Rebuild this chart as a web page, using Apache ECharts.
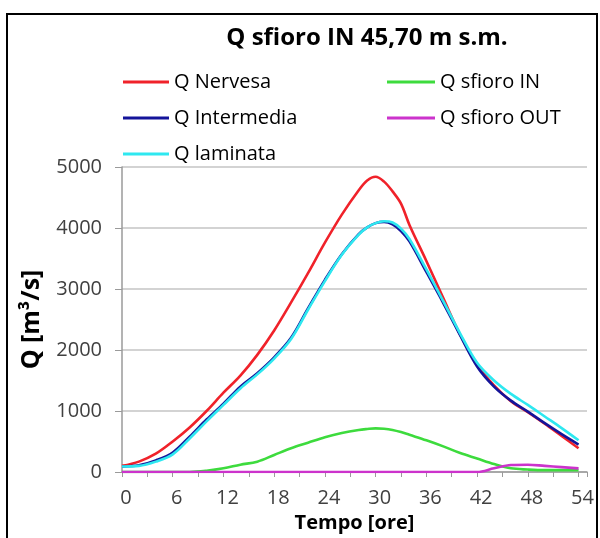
<!DOCTYPE html>
<html>
<head>
<meta charset="utf-8">
<script src="https://cdn.jsdelivr.net/npm/echarts@6/dist/echarts.min.js"></script>
<style>
  html, body { margin: 0; padding: 0; background: #fff; }
  #chart { width: 600px; height: 538px; }
</style>
</head>
<body>
<div id="chart"></div>
<script>
// Time axis (hours) shared by all series
const hours = [0, 2, 4, 6, 8, 10, 12, 14, 16, 18, 20, 22, 24, 26, 28, 29, 30, 31, 32, 33, 34, 36, 38, 40, 42, 44, 46, 48, 50, 52, 54];

// Discharges in m³/s
const qNervesa    = [100, 170, 300, 500, 730, 1000, 1300, 1580, 1920, 2320, 2780, 3260, 3760, 4220, 4620, 4780, 4840, 4760, 4600, 4400, 4050, 3460, 2850, 2250, 1760, 1420, 1160, 980, 790, 590, 390];
const qSfioroIn   = [0, 0, 0, 0, 0, 20, 60, 120, 170, 280, 390, 480, 570, 640, 690, 705, 715, 710, 690, 655, 610, 520, 420, 310, 220, 130, 60, 40, 30, 30, 30];
const qIntermedia = [90, 110, 190, 320, 580, 860, 1120, 1400, 1620, 1880, 2200, 2680, 3150, 3570, 3900, 4010, 4080, 4100, 4060, 3950, 3780, 3280, 2770, 2240, 1730, 1400, 1170, 990, 800, 620, 450];
const qSfioroOut  = [0, 0, 0, 0, 0, 0, 0, 0, 0, 0, 0, 0, 0, 0, 0, 0, 0, 0, 0, 0, 0, 0, 0, 0, 0, 60, 115, 120, 100, 80, 60];
const qLaminata   = [90, 100, 170, 290, 550, 830, 1100, 1370, 1600, 1860, 2180, 2660, 3130, 3560, 3890, 4010, 4080, 4110, 4090, 3990, 3820, 3320, 2800, 2270, 1790, 1500, 1280, 1100, 910, 720, 520];

const yTicks = [0, 1000, 2000, 3000, 4000, 5000];

const FONT = '"Open Sans", Lato, sans-serif';

function pairs(vals) { return hours.map((h, i) => [h, vals[i]]); }

function line(name, vals, color) {
  return {
    name: name,
    type: 'line',
    data: pairs(vals),
    smooth: 0.35,
    symbol: 'none',
    lineStyle: { color: color, width: 2.6 },
    itemStyle: { color: color },
    z: 3
  };
}

const chart = echarts.init(document.getElementById('chart'), null, { renderer: 'canvas' });

const legendCommon = {
  orient: 'vertical',
  icon: 'rect',
  itemHeight: 3,
  itemGap: 14,
  textStyle: { fontFamily: FONT, fontSize: 20, color: '#000', lineHeight: 22 },
  selectedMode: false
};

chart.setOption({
  animation: false,
  backgroundColor: '#fff',
  title: {
    text: 'Q sfioro IN 45,70 m s.m.',
    left: 362, top: 21,
    textAlign: 'center',
    textStyle: { fontFamily: FONT, fontSize: 24, fontWeight: 'bold', color: '#000' }
  },
  legend: [
    Object.assign({ data: ['Q Nervesa', 'Q Intermedia', 'Q laminata'], left: 118, top: 66, itemWidth: 46 }, legendCommon),
    Object.assign({ data: ['Q sfioro IN', 'Q sfioro OUT'], left: 382, top: 66, itemWidth: 48 }, legendCommon)
  ],
  grid: { left: 122, right: 13, top: 167, bottom: 66, outerBoundsMode: 'none', containLabel: false },
  xAxis: {
    type: 'value',
    min: 0, max: 55, interval: 3,
    name: 'Tempo [ore]',
    nameLocation: 'middle',
    nameGap: 40,
    nameTextStyle: { fontFamily: FONT, fontSize: 20, fontWeight: 'bold', color: '#000' },
    axisLine: { onZero: false, lineStyle: { color: '#9a9a9a', width: 1.5 } },
    axisTick: { show: true, length: 5, lineStyle: { color: '#9a9a9a' } },
    axisLabel: {
      margin: 16,
      padding: [0, 0, 0, 8],
      fontFamily: FONT, fontSize: 20, color: '#404040',
      formatter: v => (v % 6 === 0 && v <= 54) ? String(v) : ''
    },
    splitLine: { show: false }
  },
  yAxis: {
    type: 'value',
    min: yTicks[0], max: yTicks[yTicks.length - 1], interval: 1000,
    name: 'Q [m³/s]',
    nameLocation: 'middle',
    nameGap: 78,
    nameTextStyle: { fontFamily: FONT, fontSize: 25, fontWeight: 'bold', color: '#000' },
    axisLine: { show: true, lineStyle: { color: '#9a9a9a', width: 1.5 } },
    axisTick: { show: true, length: 7, lineStyle: { color: '#9a9a9a' } },
    axisLabel: {
      margin: 20, fontFamily: FONT, fontSize: 20, color: '#404040',
      formatter: v => String(v)
    },
    splitLine: { show: true, lineStyle: { color: '#c4c4c4', width: 1.5 } }
  },
  series: [
    line('Q Nervesa', qNervesa, '#f0222a'),
    line('Q sfioro IN', qSfioroIn, '#3ddb3d'),
    line('Q Intermedia', qIntermedia, '#14149a'),
    line('Q sfioro OUT', qSfioroOut, '#cc33cc'),
    line('Q laminata', qLaminata, '#2ee8f0')
  ],
  graphic: [{
    type: 'rect',
    shape: { x: 7, y: 14, width: 590, height: 540 },
    style: { fill: 'none', stroke: '#000', lineWidth: 2 },
    silent: true
  }]
});
</script>
</body>
</html>
